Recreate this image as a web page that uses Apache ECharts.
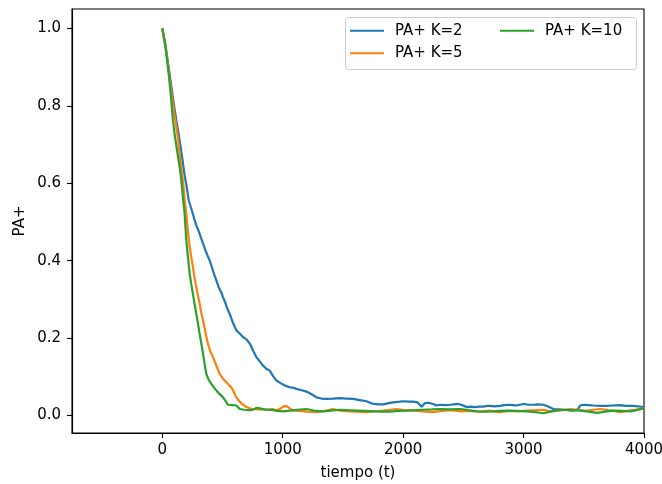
<!DOCTYPE html>
<html>
<head>
<meta charset="utf-8">
<script src="https://cdn.jsdelivr.net/npm/echarts@6/dist/echarts.min.js"></script>
<style>
html,body{margin:0;padding:0;background:#fff;}
#c{width:662px;height:484px;}
</style>
</head>
<body>
<div id="c"></div>
<script>
// ---- Data ----
const seriesNames = ['PA+ K=2', 'PA+ K=5', 'PA+ K=10'];
const xTicks = [0, 1000, 2000, 3000, 4000];
const yTicks = [0, 0.2, 0.4, 0.6, 0.8, 1.0];

const tK2 = [0,25,50,75,100,116,135,152,170,185,200,219,235,250,268,282,300,320,338,360,380,393,410,430,449,470,490,504,525,545,559,580,600,615,643,670,698,726,753,781,809,836,864,892,920,947,975,1003,1030,1058,1086,1114,1150,1197,1240,1280,1320,1363,1420,1474,1530,1584,1640,1695,1751,1800,1834,1880,1917,1973,2000,2040,2083,2120,2153,2180,2210,2250,2278,2305,2350,2388,2420,2458,2490,2527,2560,2596,2630,2665,2700,2721,2760,2804,2840,2873,2910,2942,2970,2998,3040,3081,3120,3164,3200,3247,3290,3330,3370,3413,3450,3470,3496,3540,3580,3635,3691,3740,3801,3850,3912,3950,4000];
const vK2 = [1.000,0.960,0.905,0.850,0.795,0.763,0.728,0.694,0.655,0.621,0.595,0.556,0.540,0.525,0.505,0.492,0.478,0.460,0.445,0.425,0.410,0.401,0.385,0.365,0.349,0.330,0.318,0.306,0.290,0.272,0.263,0.245,0.230,0.220,0.212,0.203,0.197,0.186,0.168,0.151,0.140,0.129,0.121,0.116,0.102,0.091,0.085,0.080,0.076,0.073,0.072,0.069,0.066,0.062,0.055,0.047,0.044,0.043,0.044,0.045,0.044,0.043,0.040,0.037,0.030,0.029,0.029,0.032,0.034,0.036,0.037,0.036,0.036,0.034,0.023,0.032,0.033,0.030,0.026,0.028,0.027,0.028,0.029,0.030,0.027,0.022,0.023,0.022,0.023,0.023,0.025,0.025,0.024,0.025,0.027,0.028,0.027,0.026,0.028,0.030,0.028,0.028,0.029,0.028,0.024,0.017,0.016,0.015,0.014,0.013,0.016,0.026,0.028,0.027,0.026,0.025,0.025,0.026,0.027,0.025,0.025,0.024,0.022];

const tK5 = [0,25,50,75,100,108,130,150,171,185,199,213,227,240,254,268,282,296,310,324,338,358,379,400,421,450,476,505,532,555,573,595,615,643,670,698,725,753,800,864,919,947,980,1010,1031,1060,1086,1141,1200,1280,1350,1418,1470,1557,1620,1695,1760,1830,1890,1945,2000,2083,2160,2250,2320,2400,2480,2560,2640,2720,2800,2880,2950,3030,3100,3164,3230,3300,3386,3450,3520,3580,3635,3700,3750,3801,3860,3920,3960,4000];
const vK5 = [1.000,0.955,0.900,0.835,0.778,0.763,0.715,0.660,0.608,0.560,0.522,0.475,0.436,0.410,0.384,0.355,0.332,0.310,0.289,0.265,0.246,0.215,0.185,0.165,0.151,0.128,0.108,0.095,0.086,0.078,0.073,0.060,0.047,0.036,0.028,0.022,0.019,0.017,0.016,0.015,0.017,0.013,0.018,0.024,0.025,0.018,0.013,0.012,0.010,0.009,0.012,0.017,0.013,0.011,0.010,0.009,0.011,0.013,0.015,0.017,0.014,0.013,0.011,0.009,0.012,0.014,0.011,0.012,0.010,0.013,0.009,0.012,0.011,0.013,0.014,0.015,0.011,0.013,0.017,0.015,0.012,0.015,0.017,0.014,0.012,0.009,0.012,0.015,0.017,0.019];

const tK10 = [0,25,50,70,88,105,125,145,158,172,185,199,213,227,240,254,268,282,296,310,324,338,352,365,385,407,430,449,475,504,525,545,580,615,643,680,720,753,781,809,850,919,960,1003,1058,1120,1197,1260,1335,1400,1474,1540,1612,1680,1751,1820,1889,1960,2028,2100,2166,2240,2305,2390,2472,2540,2610,2680,2748,2800,2859,2940,3026,3100,3164,3230,3303,3390,3469,3540,3608,3680,3746,3820,3884,3940,4000];
const vK10 = [1.000,0.955,0.890,0.830,0.763,0.720,0.680,0.640,0.608,0.560,0.522,0.453,0.410,0.367,0.340,0.315,0.288,0.263,0.238,0.211,0.186,0.160,0.132,0.108,0.092,0.082,0.072,0.065,0.056,0.047,0.038,0.028,0.027,0.026,0.017,0.015,0.014,0.015,0.020,0.019,0.016,0.014,0.012,0.011,0.013,0.015,0.017,0.013,0.011,0.013,0.015,0.014,0.013,0.012,0.011,0.010,0.010,0.012,0.013,0.014,0.015,0.016,0.017,0.016,0.017,0.014,0.011,0.010,0.011,0.012,0.013,0.012,0.011,0.009,0.006,0.011,0.015,0.014,0.013,0.010,0.007,0.010,0.013,0.012,0.011,0.014,0.019];

const colors = ['#1f77b4', '#ff7f0e', '#2ca02c'];
const FONT = 'DejaVu Sans';
const FS = 15;

function zip(t, v) { return t.map((x, i) => [x, v[i]]); }
const allData = [zip(tK2, vK2), zip(tK5, vK5), zip(tK10, vK10)];

const chart = echarts.init(document.getElementById('c'), null, {renderer: 'canvas'});

function legendItem(name, left, top) {
  return {
    data: [name], left: left, top: top, orient: 'vertical', padding: 0,
    icon: 'rect', itemWidth: 34, itemHeight: 2, selectedMode: false,
    textStyle: {fontFamily: FONT, fontSize: FS, color: '#000', lineHeight: 16, padding: [0, 0, 0, 6]}
  };
}

chart.setOption({
  animation: false,
  backgroundColor: '#fff',
  color: colors,
  grid: {left: 72, right: 18, top: 9, bottom: 51, show: true, borderColor: '#000', borderWidth: 1.1, backgroundColor: 'transparent', containLabel: false, outerBoundsMode: 'none'},
  legend: [
    legendItem(seriesNames[0], 350, 22.7),
    legendItem(seriesNames[1], 350, 45.3),
    legendItem(seriesNames[2], 500, 22.7)
  ],
  graphic: [{
    type: 'rect', left: 345, top: 17, z: 0,
    shape: {width: 291, height: 52, r: 3},
    style: {fill: 'rgba(255,255,255,0.8)', stroke: '#cccccc', lineWidth: 1}
  }],
  xAxis: {
    type: 'value', min: -750, max: 4000,
    name: 'tiempo (t)', nameLocation: 'middle', nameGap: 33, nameMoveOverlap: false,
    nameTextStyle: {fontFamily: FONT, fontSize: FS, color: '#000'},
    axisLine: {show: true, onZero: false, lineStyle: {color: '#000', width: 1.1}},
    axisTick: {show: true, length: 5, lineStyle: {color: '#000', width: 1.1}, customValues: xTicks},
    axisLabel: {fontFamily: FONT, fontSize: FS, color: '#000', margin: 10, customValues: xTicks, formatter: v => String(v)},
    splitLine: {show: false}
  },
  yAxis: {
    type: 'value', min: -0.045, max: 1.05,
    name: 'PA+', nameLocation: 'middle', nameGap: 44, nameRotate: 90, nameMoveOverlap: false,
    nameTextStyle: {fontFamily: FONT, fontSize: FS, color: '#000'},
    axisLine: {show: true, onZero: false, lineStyle: {color: '#000', width: 1.1}},
    axisTick: {show: true, length: 5, lineStyle: {color: '#000', width: 1.1}, customValues: yTicks},
    axisLabel: {fontFamily: FONT, fontSize: FS, color: '#000', margin: 11, customValues: yTicks, formatter: v => v.toFixed(1)},
    splitLine: {show: false}
  },
  series: seriesNames.map((n, i) => ({
    name: n, type: 'line', data: allData[i], showSymbol: false, symbol: 'none',
    lineStyle: {width: 2.2, color: colors[i]}, itemStyle: {color: colors[i]}, z: 2 + i, clip: true
  }))
});
</script>
</body>
</html>
